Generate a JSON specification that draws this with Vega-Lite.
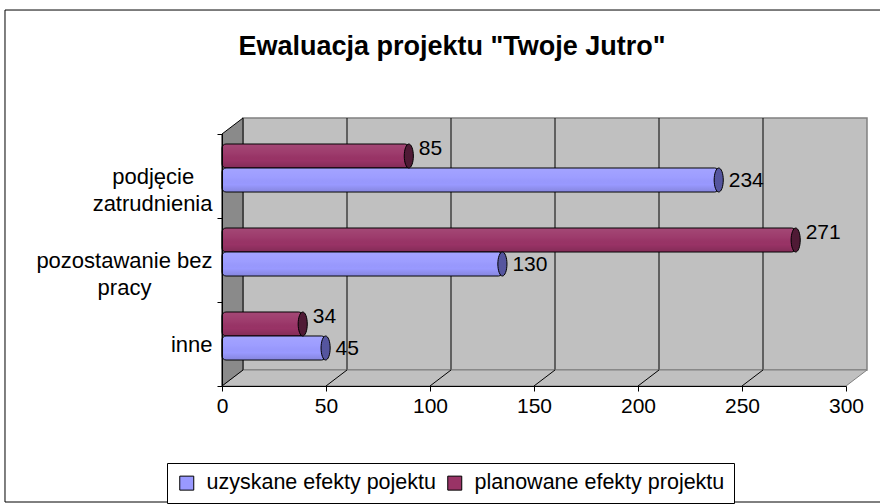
{
  "$schema": "https://vega.github.io/schema/vega-lite/v6.json",
  "width": 624,
  "height": 252,
  "autosize": {"type": "none"},
  "padding": {"left": 222, "top": 134, "right": 34, "bottom": 118},
  "background": "white",
  "title": {
    "text": "Ewaluacja projektu \"Twoje Jutro\"",
    "font": "Liberation Sans",
    "fontSize": 27,
    "fontWeight": "bold",
    "color": "black",
    "anchor": "middle",
    "frame": "group",
    "dx": -82,
    "offset": -74,
    "baseline": "alphabetic"
  },
  "datasets": {
    "dane": [
      {"kategoria": "podjęcie zatrudnienia", "seria": "uzyskane efekty pojektu", "wartosc": 234},
      {"kategoria": "podjęcie zatrudnienia", "seria": "planowane efekty projektu", "wartosc": 85},
      {"kategoria": "pozostawanie bez pracy", "seria": "uzyskane efekty pojektu", "wartosc": 130},
      {"kategoria": "pozostawanie bez pracy", "seria": "planowane efekty projektu", "wartosc": 271},
      {"kategoria": "inne", "seria": "uzyskane efekty pojektu", "wartosc": 45},
      {"kategoria": "inne", "seria": "planowane efekty projektu", "wartosc": 34}
    ],
    "siatka": [{"wartosc": 50}, {"wartosc": 100}, {"wartosc": 150}, {"wartosc": 200}, {"wartosc": 250}],
    "rama": [{"element": "rama"}]
  },
  "config": {"view": {"stroke": null}, "font": "Liberation Sans"},
  "layer": [
    {
      "data": {"name": "rama"},
      "mark": {"type": "point", "shape": "M1.01,0.3678 L-0.3298,0.3678 L-0.3298,-0.3799 L1.01,-0.3799", "size": 1731856, "filled": false, "stroke": "black", "strokeWidth": 1, "opacity": 1},
      "encoding": {
        "x": {
          "datum": 0, "type": "quantitative",
          "scale": {"domain": [0, 300], "nice": false},
          "axis": {"values": [0, 50, 100, 150, 200, 250, 300], "title": null, "grid": false, "domainColor": "black", "domainWidth": 1, "tickColor": "black", "tickSize": 5, "labelFont": "Liberation Sans", "labelFontSize": 21, "labelColor": "black", "labelPadding": 4, "labelFlush": false, "labelOverlap": false, "zindex": 1}
        },
        "y": {
          "datum": "pozostawanie bez pracy", "type": "nominal",
          "scale": {"domain": ["podjęcie zatrudnienia", "pozostawanie bez pracy", "inne"], "paddingInner": 0, "paddingOuter": 0},
          "axis": {"title": null, "domainColor": "black", "tickColor": "black", "tickSize": 5, "tickBand": "extent", "labelFont": "Liberation Sans", "labelFontSize": 22, "labelColor": "black", "labelPadding": 5, "labelAlign": "right", "labelBaseline": "middle", "labelLineHeight": 27, "labelLimit": 300, "zindex": 1,
            "labelExpr": "datum.value == 'podjęcie zatrudnienia' ? ['podjęcie\u00a0\u00a0\u00a0\u200b', 'zatrudnienia'] : datum.value == 'pozostawanie bez pracy' ? ['pozostawanie bez', 'pracy\u00a0\u00a0\u00a0\u00a0\u00a0\u00a0\u00a0\u00a0\u00a0\u00a0\u200b'] : datum.label"}
        }
      }
    },
    {
      "data": {"name": "rama"},
      "mark": {"type": "point", "shape": "M-1,-0.4038 L1,-0.4038 L1,0.4038 L-1,0.4038 Z", "size": 389376, "filled": true, "fill": "#c0c0c0", "stroke": "#808080", "strokeWidth": 1.5, "opacity": 1, "xOffset": 21, "yOffset": -16},
      "encoding": {
        "x": {"datum": 150, "type": "quantitative", "scale": {"domain": [0, 300], "nice": false}},
        "y": {"datum": "pozostawanie bez pracy", "type": "nominal", "scale": {"domain": ["podjęcie zatrudnienia", "pozostawanie bez pracy", "inne"], "paddingInner": 0, "paddingOuter": 0}}
      }
    },
    {
      "data": {"name": "siatka"},
      "mark": {"type": "point", "shape": "M0,-1 L0,1", "size": 63504, "filled": false, "stroke": "black", "strokeWidth": 1, "opacity": 1, "xOffset": 21, "yOffset": -16},
      "encoding": {
        "x": {"field": "wartosc", "type": "quantitative", "scale": {"domain": [0, 300], "nice": false}},
        "y": {"datum": "pozostawanie bez pracy", "type": "nominal", "scale": {"domain": ["podjęcie zatrudnienia", "pozostawanie bez pracy", "inne"], "paddingInner": 0, "paddingOuter": 0}}
      }
    },
    {
      "data": {"name": "rama"},
      "mark": {"type": "point", "shape": "M-1,0.0248 L0.9349,0.0248 L1,-0.0248 L-0.9349,-0.0248 Z", "size": 416025, "filled": true, "fill": "#c0c0c0", "stroke": "#808080", "strokeWidth": 1, "opacity": 1, "xOffset": 10.5, "yOffset": 34},
      "encoding": {
        "x": {"datum": 150, "type": "quantitative", "scale": {"domain": [0, 300], "nice": false}},
        "y": {"datum": "inne", "type": "nominal", "scale": {"domain": ["podjęcie zatrudnienia", "pozostawanie bez pracy", "inne"], "paddingInner": 0, "paddingOuter": 0}}
      }
    },
    {
      "data": {"name": "siatka"},
      "mark": {"type": "point", "shape": "M0,0 L1,-0.7619", "size": 1764, "filled": false, "stroke": "black", "strokeWidth": 1, "opacity": 1, "yOffset": 42},
      "encoding": {
        "x": {"field": "wartosc", "type": "quantitative", "scale": {"domain": [0, 300], "nice": false}},
        "y": {"datum": "inne", "type": "nominal", "scale": {"domain": ["podjęcie zatrudnienia", "pozostawanie bez pracy", "inne"], "paddingInner": 0, "paddingOuter": 0}}
      }
    },
    {
      "data": {"name": "rama"},
      "mark": {"type": "point", "shape": "M-0.0784,-0.8806 L0.0784,-1 L0.0784,0.8806 L-0.0784,1 Z", "size": 71824, "filled": true, "fill": "#8a8a8a", "stroke": "black", "strokeWidth": 1, "opacity": 1, "xOffset": 10.5, "yOffset": -8},
      "encoding": {
        "x": {"datum": 0, "type": "quantitative", "scale": {"domain": [0, 300], "nice": false}},
        "y": {"datum": "pozostawanie bez pracy", "type": "nominal", "scale": {"domain": ["podjęcie zatrudnienia", "pozostawanie bez pracy", "inne"], "paddingInner": 0, "paddingOuter": 0}}
      }
    },
    {
      "data": {"name": "dane"},
      "transform": [{"filter": "datum.seria == 'planowane efekty projektu'"}],
      "mark": {"type": "bar", "height": 24, "yOffset": -20, "xOffset": 10, "x2Offset": 6, "stroke": "black", "strokeWidth": 1, "cornerRadius": 4, "opacity": 1},
      "encoding": {
        "x": {"field": "wartosc", "type": "quantitative", "stack": null, "scale": {"domain": [0, 300], "nice": false}},
        "y": {"field": "kategoria", "type": "nominal", "scale": {"domain": ["podjęcie zatrudnienia", "pozostawanie bez pracy", "inne"], "paddingInner": 0, "paddingOuter": 0}},
        "color": {
          "field": "seria", "type": "nominal",
          "scale": {"domain": ["uzyskane efekty pojektu", "planowane efekty projektu"], "range": ["#9999ff", "#993366"]},
          "legend": {"orient": "none", "legendX": -55, "legendY": 329, "direction": "horizontal", "title": null, "strokeColor": "black", "fillColor": "white", "padding": 9, "symbolType": "square", "symbolSize": 196, "symbolStrokeColor": "black", "symbolStrokeWidth": 1, "symbolOpacity": 1, "labelFont": "Liberation Sans", "labelFontSize": 21.5, "labelColor": "black", "labelOffset": 9, "columnPadding": 8, "labelLimit": 400}
        }
      }
    },
    {
      "data": {"name": "dane"},
      "transform": [{"filter": "datum.seria == 'uzyskane efekty pojektu'"}],
      "mark": {"type": "bar", "height": 24, "yOffset": 4, "xOffset": 10, "x2Offset": 6, "stroke": "black", "strokeWidth": 1, "cornerRadius": 4, "opacity": 1},
      "encoding": {
        "x": {"field": "wartosc", "type": "quantitative", "stack": null, "scale": {"domain": [0, 300], "nice": false}},
        "y": {"field": "kategoria", "type": "nominal", "scale": {"domain": ["podjęcie zatrudnienia", "pozostawanie bez pracy", "inne"], "paddingInner": 0, "paddingOuter": 0}},
        "color": {"field": "seria", "type": "nominal", "scale": {"domain": ["uzyskane efekty pojektu", "planowane efekty projektu"], "range": ["#9999ff", "#993366"]}}
      }
    },
    {
      "data": {"name": "dane"},
      "transform": [{"filter": "datum.seria == 'planowane efekty projektu'"}],
      "mark": {"type": "bar", "height": 23, "yOffset": -20, "xOffset": 10, "x2Offset": 6, "strokeWidth": 0, "cornerRadius": 4, "opacity": 1,
        "fill": {"gradient": "linear", "x1": 0, "y1": 0, "x2": 0, "y2": 1, "stops": [{"offset": 0, "color": "rgba(255,255,255,0.10)"}, {"offset": 0.4, "color": "rgba(255,255,255,0.04)"}, {"offset": 0.7, "color": "rgba(0,0,0,0.0)"}, {"offset": 1, "color": "rgba(0,0,0,0.14)"}]}},
      "encoding": {
        "x": {"field": "wartosc", "type": "quantitative", "stack": null, "scale": {"domain": [0, 300], "nice": false}},
        "y": {"field": "kategoria", "type": "nominal", "scale": {"domain": ["podjęcie zatrudnienia", "pozostawanie bez pracy", "inne"], "paddingInner": 0, "paddingOuter": 0}}
      }
    },
    {
      "data": {"name": "dane"},
      "transform": [{"filter": "datum.seria == 'uzyskane efekty pojektu'"}],
      "mark": {"type": "bar", "height": 23, "yOffset": 4, "xOffset": 10, "x2Offset": 6, "strokeWidth": 0, "cornerRadius": 4, "opacity": 1,
        "fill": {"gradient": "linear", "x1": 0, "y1": 0, "x2": 0, "y2": 1, "stops": [{"offset": 0, "color": "rgba(255,255,255,0.10)"}, {"offset": 0.4, "color": "rgba(255,255,255,0.04)"}, {"offset": 0.7, "color": "rgba(0,0,0,0.0)"}, {"offset": 1, "color": "rgba(0,0,0,0.12)"}]}},
      "encoding": {
        "x": {"field": "wartosc", "type": "quantitative", "stack": null, "scale": {"domain": [0, 300], "nice": false}},
        "y": {"field": "kategoria", "type": "nominal", "scale": {"domain": ["podjęcie zatrudnienia", "pozostawanie bez pracy", "inne"], "paddingInner": 0, "paddingOuter": 0}}
      }
    },
    {
      "data": {"name": "dane"},
      "transform": [{"filter": "datum.seria == 'planowane efekty projektu'"}],
      "mark": {"type": "point", "shape": "M0,-1 C0.2099,-1 0.38,-0.5523 0.38,0 C0.38,0.5523 0.2099,1 0,1 C-0.2099,1 -0.38,0.5523 -0.38,0 C-0.38,-0.5523 -0.2099,-1 0,-1 Z", "size": 576, "filled": true, "fill": "#4f1a35", "stroke": "black", "strokeWidth": 1, "opacity": 1, "xOffset": 10, "yOffset": -20},
      "encoding": {
        "x": {"field": "wartosc", "type": "quantitative", "scale": {"domain": [0, 300], "nice": false}},
        "y": {"field": "kategoria", "type": "nominal", "scale": {"domain": ["podjęcie zatrudnienia", "pozostawanie bez pracy", "inne"], "paddingInner": 0, "paddingOuter": 0}}
      }
    },
    {
      "data": {"name": "dane"},
      "transform": [{"filter": "datum.seria == 'uzyskane efekty pojektu'"}],
      "mark": {"type": "point", "shape": "M0,-1 C0.2099,-1 0.38,-0.5523 0.38,0 C0.38,0.5523 0.2099,1 0,1 C-0.2099,1 -0.38,0.5523 -0.38,0 C-0.38,-0.5523 -0.2099,-1 0,-1 Z", "size": 576, "filled": true, "fill": "#55559e", "stroke": "black", "strokeWidth": 1, "opacity": 1, "xOffset": 10, "yOffset": 4},
      "encoding": {
        "x": {"field": "wartosc", "type": "quantitative", "scale": {"domain": [0, 300], "nice": false}},
        "y": {"field": "kategoria", "type": "nominal", "scale": {"domain": ["podjęcie zatrudnienia", "pozostawanie bez pracy", "inne"], "paddingInner": 0, "paddingOuter": 0}}
      }
    },
    {
      "data": {"name": "dane"},
      "transform": [{"filter": "datum.seria == 'planowane efekty projektu'"}],
      "mark": {"type": "text", "align": "left", "baseline": "middle", "font": "Liberation Sans", "fontSize": 21, "color": "black", "xOffset": 20, "yOffset": -27},
      "encoding": {
        "x": {"field": "wartosc", "type": "quantitative", "scale": {"domain": [0, 300], "nice": false}},
        "y": {"field": "kategoria", "type": "nominal", "scale": {"domain": ["podjęcie zatrudnienia", "pozostawanie bez pracy", "inne"], "paddingInner": 0, "paddingOuter": 0}},
        "text": {"field": "wartosc", "type": "quantitative"}
      }
    },
    {
      "data": {"name": "dane"},
      "transform": [{"filter": "datum.seria == 'uzyskane efekty pojektu'"}],
      "mark": {"type": "text", "align": "left", "baseline": "middle", "font": "Liberation Sans", "fontSize": 21, "color": "black", "xOffset": 20, "yOffset": 5},
      "encoding": {
        "x": {"field": "wartosc", "type": "quantitative", "scale": {"domain": [0, 300], "nice": false}},
        "y": {"field": "kategoria", "type": "nominal", "scale": {"domain": ["podjęcie zatrudnienia", "pozostawanie bez pracy", "inne"], "paddingInner": 0, "paddingOuter": 0}},
        "text": {"field": "wartosc", "type": "quantitative"}
      }
    }
  ]
}
